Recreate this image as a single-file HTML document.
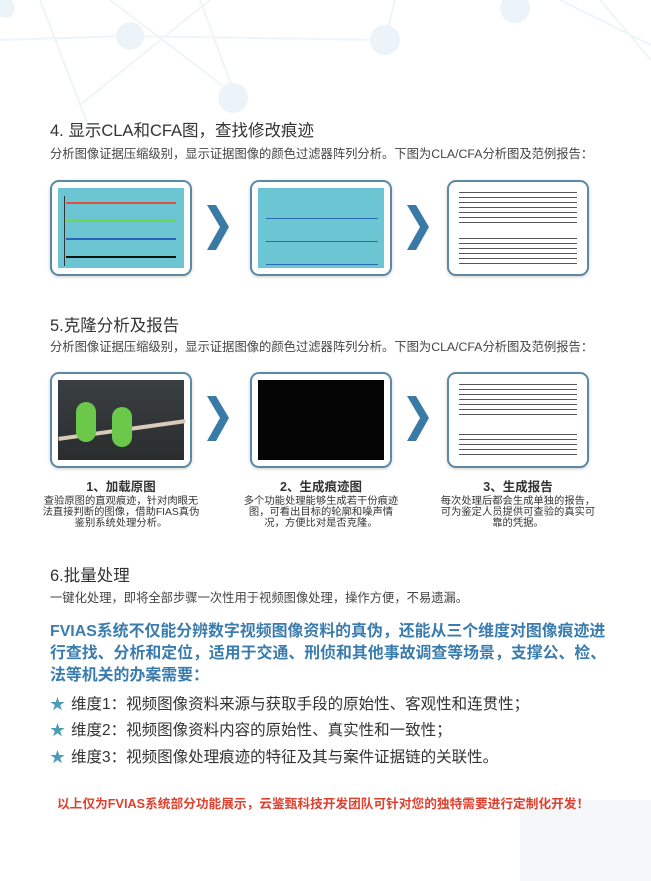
<!DOCTYPE html>
<html><head><meta charset="utf-8"><style>
*{margin:0;padding:0;box-sizing:border-box}
body{width:651px;height:881px;position:relative;background:#fff;overflow:hidden;font-family:"Liberation Sans","Noto Sans CJK SC",sans-serif;color:#333}
.a{position:absolute;white-space:nowrap}
.h{font-size:16.5px;color:#333}
.s{font-size:12.3px;color:#444}
.box{position:absolute;width:142px;height:96px;border:2px solid #5b89a6;border-radius:9px;background:#fff;box-shadow:0 1px 3px rgba(0,0,0,.2)}
.in{position:absolute;left:6px;top:6px;right:6px;bottom:6px}
.cap{position:absolute;width:160px;text-align:center;font-size:10.3px;line-height:11px;color:#333}
.cap b{display:block;font-size:12.5px;line-height:16px;margin-bottom:1px}
.blue{font-size:15.9px;color:#3a7cae;font-weight:bold;line-height:22px}
.bl{font-size:15.5px;color:#333}
.star{color:#4d9bb5;font-size:15px;margin-right:6px}
.txt{position:absolute;left:4px;right:4px;background:repeating-linear-gradient(#fff 0 2px,#555 2px 3px,#fff 3px 5px)}
</style></head><body>
<svg class="a" style="left:0;top:0" width="651" height="881">
<g stroke="#eef5fa" stroke-width="2" fill="none">
<line x1="0" y1="40" x2="130" y2="36"/><line x1="40" y1="0" x2="90" y2="130"/><line x1="130" y1="36" x2="385" y2="40"/><line x1="80" y1="105" x2="210" y2="0"/><line x1="200" y1="0" x2="235" y2="95"/><line x1="110" y1="0" x2="235" y2="95"/><line x1="385" y1="40" x2="395" y2="0"/><line x1="560" y1="0" x2="651" y2="45"/><line x1="600" y1="0" x2="651" y2="60"/>
</g>
<g fill="#ecf4fa"><circle cx="130" cy="36" r="14"/><circle cx="385" cy="40" r="15"/><circle cx="233" cy="98" r="15"/><circle cx="515" cy="8" r="15"/><circle cx="5" cy="8" r="10"/></g>
<g fill="#f6f7f8">
<rect x="520" y="800" width="131" height="81"/>
</g>
</svg>
<div class="a h" style="left:50px;top:117px">4. 显示CLA和CFA图，查找修改痕迹</div>
<div class="a s" style="left:50px;top:144px">分析图像证据压缩级别，显示证据图像的颜色过滤器阵列分析。下图为CLA/CFA分析图及范例报告：</div>

<div class="box" style="left:50px;top:180px"><div class="in" style="background:#6cc5d3">
<div style="position:absolute;left:8px;top:14px;width:110px;height:2px;background:#e05040"></div>
<div style="position:absolute;left:8px;top:32px;width:110px;height:2px;background:#6cd650"></div>
<div style="position:absolute;left:8px;top:50px;width:110px;height:2px;background:#2a63b8"></div>
<div style="position:absolute;left:8px;top:68px;width:110px;height:2px;background:#111"></div>
<div style="position:absolute;left:6px;top:8px;width:1px;height:70px;background:#333"></div>
</div></div>
<div class="box" style="left:250px;top:180px"><div class="in" style="background:#6cc5d3">
<div style="position:absolute;left:8px;top:30px;width:112px;height:1px;background:#2b6cb0"></div>
<div style="position:absolute;left:8px;top:53px;width:112px;height:1px;background:#2b6cb0"></div>
<div style="position:absolute;left:8px;top:76px;width:112px;height:1px;background:#2b6cb0"></div>
</div></div>
<div class="box" style="left:447px;top:180px"><div class="in">
<div class="txt" style="top:2px;height:36px"></div><div class="txt" style="top:48px;height:32px"></div>
</div></div>

<svg class="a" style="left:205px;top:205px" width="25" height="45"><polygon points="2,0 11,0 24,22 11,45 2,45 15,22" fill="#3a7aa6"/></svg>
<svg class="a" style="left:405px;top:205px" width="25" height="45"><polygon points="2,0 11,0 24,22 11,45 2,45 15,22" fill="#3a7aa6"/></svg>

<div class="a h" style="left:50px;top:312px">5.克隆分析及报告</div>
<div class="a s" style="left:50px;top:337px">分析图像证据压缩级别，显示证据图像的颜色过滤器阵列分析。下图为CLA/CFA分析图及范例报告：</div>

<div class="box" style="left:50px;top:372px"><div class="in" style="background:linear-gradient(#3a3f42,#2a2d2e)">
<div style="position:absolute;left:0;top:48px;width:128px;height:4px;background:#d8cbb8;transform:rotate(-8deg)"></div>
<div style="position:absolute;left:18px;top:22px;width:20px;height:40px;border-radius:10px;background:#6cc84a"></div>
<div style="position:absolute;left:54px;top:27px;width:20px;height:40px;border-radius:10px;background:#6cc84a"></div>
</div></div>
<div class="box" style="left:250px;top:372px"><div class="in" style="background:#050505"></div></div>
<div class="box" style="left:447px;top:372px"><div class="in">
<div class="txt" style="top:2px;height:36px"></div><div class="txt" style="top:52px;height:26px"></div>
</div></div>
<svg class="a" style="left:205px;top:396px" width="25" height="45"><polygon points="2,0 11,0 24,22 11,45 2,45 15,22" fill="#3a7aa6"/></svg>
<svg class="a" style="left:405px;top:396px" width="25" height="45"><polygon points="2,0 11,0 24,22 11,45 2,45 15,22" fill="#3a7aa6"/></svg>

<div class="cap" style="left:41px;top:479px"><b>1、加载原图</b>查验原图的直观痕迹，针对肉眼无<br>法直接判断的图像，借助FIAS真伪<br>鉴别系统处理分析。</div>
<div class="cap" style="left:241px;top:479px"><b>2、生成痕迹图</b>多个功能处理能够生成若干份痕迹<br>图，可看出目标的轮廓和噪声情<br>况，方便比对是否克隆。</div>
<div class="cap" style="left:438px;top:479px"><b>3、生成报告</b>每次处理后都会生成单独的报告，<br>可为鉴定人员提供可查验的真实可<br>靠的凭据。</div>

<div class="a h" style="left:50px;top:562px">6.批量处理</div>
<div class="a s" style="left:50px;top:588px">一键化处理，即将全部步骤一次性用于视频图像处理，操作方便，不易遗漏。</div>

<div class="a blue" style="left:50px;top:621px">FVIAS系统不仅能分辨数字视频图像资料的真伪，还能从三个维度对图像痕迹进<br>行查找、分析和定位，适用于交通、刑侦和其他事故调查等场景，支撑公、检、<br>法等机关的办案需要：</div>

<div class="a bl" style="left:50px;top:692px"><span class="star">★</span>维度1：视频图像资料来源与获取手段的原始性、客观性和连贯性；</div>
<div class="a bl" style="left:50px;top:718px"><span class="star">★</span>维度2：视频图像资料内容的原始性、真实性和一致性；</div>
<div class="a bl" style="left:50px;top:745px"><span class="star">★</span>维度3：视频图像处理痕迹的特征及其与案件证据链的关联性。</div>

<div class="a" style="left:57px;top:793px;font-size:12.7px;font-weight:bold;color:#e0402e">以上仅为FVIAS系统部分功能展示，云鉴甄科技开发团队可针对您的独特需要进行定制化开发！</div>
</body></html>
